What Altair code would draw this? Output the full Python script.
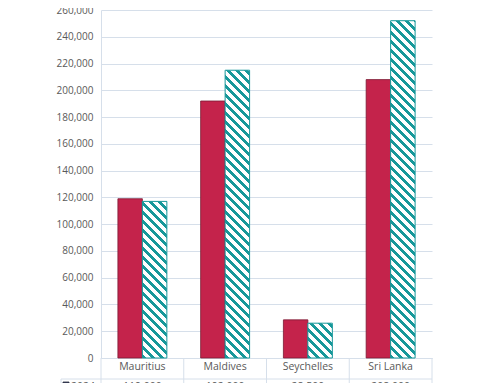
import altair as alt
import pandas as pd

categories = ["Mauritius", "Maldives", "Seychelles", "Sri Lanka"]
series = ["2024", "2025"]
values_2024 = [119000, 192000, 28500, 208000]
values_2025 = [117000, 215000, 26000, 252000]
y_ticks = list(range(0, 260001, 20000))

YMAX = 260000
W = 331.0
H = 348.0
PAD_OUT = 0.69
BAND = W / len(categories)
BAR_W = BAND / (2 + 2 * PAD_OUT)

RED = "#C4234B"
RED_EDGE = "#7A1B33"
TEAL = "#17989A"
GRID = "#D6DFEA"
TXT = "#595959"
FONT = "Open Sans"

rows = []
for c, a, b in zip(categories, values_2024, values_2025):
    rows.append({"category": c, "series": series[0], "value": a})
    rows.append({"category": c, "series": series[1], "value": b})
df = pd.DataFrame(rows)


def hatch(value, period=9.0, frac=0.45):
    h = value / YMAX * H
    w = BAR_W
    L = w + h
    k = L / (w * w + h * h)
    stops = []
    i = 0
    while True:
        a = i * period / L
        if a >= 1:
            break
        b = min((i * period + period * frac) / L, 1.0)
        c = min((i + 1) * period / L, 1.0)
        stops += [
            {"offset": a, "color": TEAL},
            {"offset": b, "color": TEAL},
            {"offset": b, "color": "#FFFFFF"},
            {"offset": c, "color": "#FFFFFF"},
        ]
        i += 1
    return {
        "gradient": "linear",
        "x1": 0, "y1": 1,
        "x2": k * w, "y2": 1 - k * h,
        "stops": stops,
    }


def x_enc(**kw):
    return alt.X(
        "category:N",
        scale=alt.Scale(domain=categories, paddingInner=0, paddingOuter=0),
        axis=alt.Axis(
            title=None, ticks=False, domain=True, domainColor=GRID, grid=False,
            labelFont=FONT, labelFontSize=10.5, labelColor=TXT, labelPadding=3,
            labelAngle=0,
        ),
        **kw,
    )


xoff_enc = alt.XOffset(
    "series:N",
    scale=alt.Scale(domain=series, paddingInner=0, paddingOuter=PAD_OUT),
)
y_enc = alt.Y(
    "value:Q",
    scale=alt.Scale(domain=[0, YMAX], nice=False),
    axis=alt.Axis(
        title=None, values=y_ticks, format=",.0f", ticks=False, domain=True,
        domainColor=GRID, gridColor=GRID, labelFont=FONT, labelFontSize=10,
        labelColor=TXT, labelPadding=8,
    ),
)

base = alt.Chart(df)

red_bars = base.transform_filter(alt.datum.series == series[0]).mark_bar(
    fill=RED, stroke=RED_EDGE, strokeWidth=0.8
).encode(x=x_enc(), xOffset=xoff_enc, y=y_enc)

layers = [red_bars]
for c, v in zip(categories, values_2025):
    layers.append(
        base.transform_filter(
            (alt.datum.series == series[1]) & (alt.datum.category == c)
        ).mark_bar(fill=hatch(v), stroke=TEAL, strokeWidth=1).encode(
            x=x_enc(), xOffset=xoff_enc, y=y_enc
        )
    )

one = pd.DataFrame({"k": [0]})

# data table borders
dividers = base.transform_filter(alt.datum.series == series[0]).mark_rule(
    color=GRID, strokeWidth=1
).encode(
    x=x_enc(bandPosition=0),
    y=alt.value(H),
    y2=alt.value(H + 45),
)
right_edge = alt.Chart(one).mark_rule(color=GRID).encode(
    x=alt.value(W), y=alt.value(H), y2=alt.value(H + 45)
)
row_line = alt.Chart(one).mark_rule(color=GRID).encode(
    x=alt.value(-40), x2=alt.value(W), y=alt.value(H + 21)
)
row_left = alt.Chart(one).mark_rule(color=GRID).encode(
    x=alt.value(-40), y=alt.value(H + 21), y2=alt.value(H + 45)
)
key = alt.Chart(one).mark_rect(fill="#3B3F5C", stroke="#2A2D40", strokeWidth=0.8).encode(
    x=alt.value(-38), x2=alt.value(-32), y=alt.value(H + 24), y2=alt.value(H + 30)
)
row_label = alt.Chart(pd.DataFrame({"t": [series[0]]})).mark_text(
    align="left", baseline="middle", font=FONT, fontSize=10.5, color=TXT
).encode(x=alt.value(-30), y=alt.value(H + 29), text="t:N")
row_vals = base.transform_filter(alt.datum.series == series[0]).mark_text(
    align="center", baseline="middle", font=FONT, fontSize=10.5, color=TXT
).encode(
    x=x_enc(),
    y=alt.value(H + 29),
    text=alt.Text("value:Q", format=",.0f"),
)

chart = alt.layer(
    *layers, dividers, right_edge, row_line, row_left, key, row_label, row_vals
).properties(
    width=W, height=H,
    autosize=alt.AutoSizeParams(type="none"),
    padding={"left": 93, "top": 2, "right": 10, "bottom": 25},
    background="white",
).configure_view(stroke=None)

chart.save("out.html", embed_options={"renderer": "svg", "actions": False})
